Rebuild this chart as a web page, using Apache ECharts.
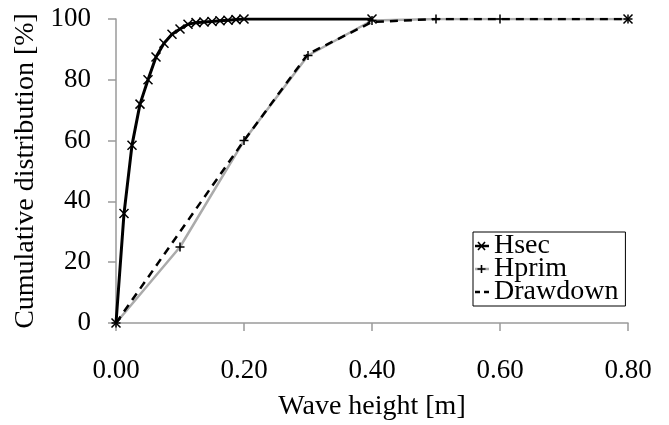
<!DOCTYPE html>
<html>
<head>
<meta charset="utf-8">
<script src="https://cdn.jsdelivr.net/npm/echarts@6/dist/echarts.min.js"></script>
<style>
html, body { margin: 0; padding: 0; background: #fff; }
#chart { width: 669px; height: 425px; }
</style>
</head>
<body>
<div id="chart"></div>
<script>
// wave height [m] / cumulative distribution [%]
var hsecX = [0, 0.0125, 0.025, 0.0375, 0.05, 0.0625, 0.075, 0.0875, 0.1, 0.1125, 0.125, 0.1375, 0.15, 0.1625, 0.175, 0.1875, 0.2, 0.4, 0.6, 0.8];
var hsecY = [0, 36, 58.5, 72, 80, 87.5, 92, 95, 96.7, 98.3, 98.8, 99, 99.2, 99.4, 99.6, 99.8, 100, 100, '-', 100];
var hprimX = [0, 0.1, 0.2, 0.3, 0.4, 0.5, 0.6, 0.8];
var hprimY = [0, 25, 60, 88, 99.5, 100, 100, 100];
var drawX = [0, 0.2, 0.3, 0.4, 0.5, 0.6, 0.8];
var drawY = [0, 60, 88.5, 99, 100, 100, 100];

function pairs(xs, ys) {
	return xs.map(function(x, i) { return [x, ys[i]]; });
}

// legend icons drawn as small svg pictures (line + marker in two colours)
function svgIcon(body) {
	var svg = '<svg xmlns="http://www.w3.org/2000/svg" width="14" height="12" viewBox="0 0 14 12">' + body + '</svg>';
	return 'image://data:image/svg+xml;charset=utf-8,' + encodeURIComponent(svg);
}
var hsecIcon = svgIcon('<path d="M0 6H14" stroke="#000" stroke-width="2.5"/><path d="M3 2L10 10M10 2L3 10" stroke="#000" stroke-width="1.6"/>');
var hprimIcon = svgIcon('<path d="M0 6H14" stroke="#ababab" stroke-width="2.5"/><path d="M6.5 2V10M2.5 6H10.5" stroke="#000" stroke-width="1.6"/>');
var drawIcon = svgIcon('<path d="M0 6H5M9 6H14" stroke="#000" stroke-width="2.5"/>');

var font = 'Liberation Serif';
var crossPath = 'path://M0,0L10,10M10,0L0,10';
var plusPath = 'path://M5,0L5,10M0,5L10,5';

var chart = echarts.init(document.getElementById('chart'));
chart.setOption({
	animation: false,
	textStyle: { fontFamily: font, color: '#000' },
	grid: { left: 116, right: 41, top: 19, bottom: 102, outerBoundsMode: 'none', containLabel: false },
	legend: {
		left: 473,
		top: 232,
		orient: 'vertical',
		data: [
			{ name: 'Hsec', icon: hsecIcon },
			{ name: 'Hprim', icon: hprimIcon },
			{ name: 'Drawdown', icon: drawIcon }
		],
		backgroundColor: '#fff',
		borderColor: '#000',
		borderWidth: 1,
		padding: [0, 7, 0, 2],
		itemGap: -5,
		itemWidth: 14,
		itemHeight: 12,
		textStyle: { fontFamily: font, fontSize: 28, color: '#000' }
	},
	xAxis: {
		type: 'value',
		min: 0,
		max: 0.8,
		interval: 0.2,
		name: 'Wave height [m]',
		nameLocation: 'middle',
		nameGap: 70,
		nameTextStyle: { fontFamily: font, fontSize: 28, color: '#000' },
		axisLine: { lineStyle: { color: '#9a9a9a', width: 1.5 } },
		axisTick: { show: true, inside: false, length: 8, lineStyle: { color: '#9a9a9a', width: 1.5 } },
		axisLabel: {
			margin: 34,
			fontSize: 27,
			fontFamily: font,
			color: '#000',
			formatter: function(v) { return v.toFixed(2); }
		},
		splitLine: { show: false }
	},
	yAxis: {
		type: 'value',
		min: 0,
		max: 100,
		interval: 20,
		name: 'Cumulative distribution [%]',
		nameLocation: 'middle',
		nameGap: 76,
		nameTextStyle: { fontFamily: font, fontSize: 28, color: '#000' },
		axisLine: { show: true, lineStyle: { color: '#9a9a9a', width: 1.5 } },
		axisTick: { show: true, inside: false, length: 8, lineStyle: { color: '#9a9a9a', width: 1.5 } },
		axisLabel: { margin: 25, fontSize: 27, fontFamily: font, color: '#000' },
		splitLine: { show: false }
	},
	series: [
		{
			name: 'Hprim',
			type: 'line',
			data: pairs(hprimX, hprimY),
			symbol: plusPath,
			symbolSize: 9,
			showAllSymbol: true,
			lineStyle: { color: '#ababab', width: 2.5 },
			itemStyle: { color: '#000', borderColor: '#000', borderWidth: 1.5 },
			z: 2
		},
		{
			name: 'Drawdown',
			type: 'line',
			data: pairs(drawX, drawY),
			showSymbol: false,
			symbol: 'none',
			lineStyle: { color: '#000', width: 2.5, type: [8, 6] },
			itemStyle: { color: '#000' },
			z: 3
		},
		{
			name: 'Hsec',
			type: 'line',
			data: pairs(hsecX, hsecY),
			symbol: crossPath,
			symbolSize: 9,
			showAllSymbol: true,
			connectNulls: false,
			lineStyle: { color: '#000', width: 3 },
			itemStyle: { color: '#000', borderColor: '#000', borderWidth: 1.5 },
			z: 4
		}
	]
});
</script>
</body>
</html>
